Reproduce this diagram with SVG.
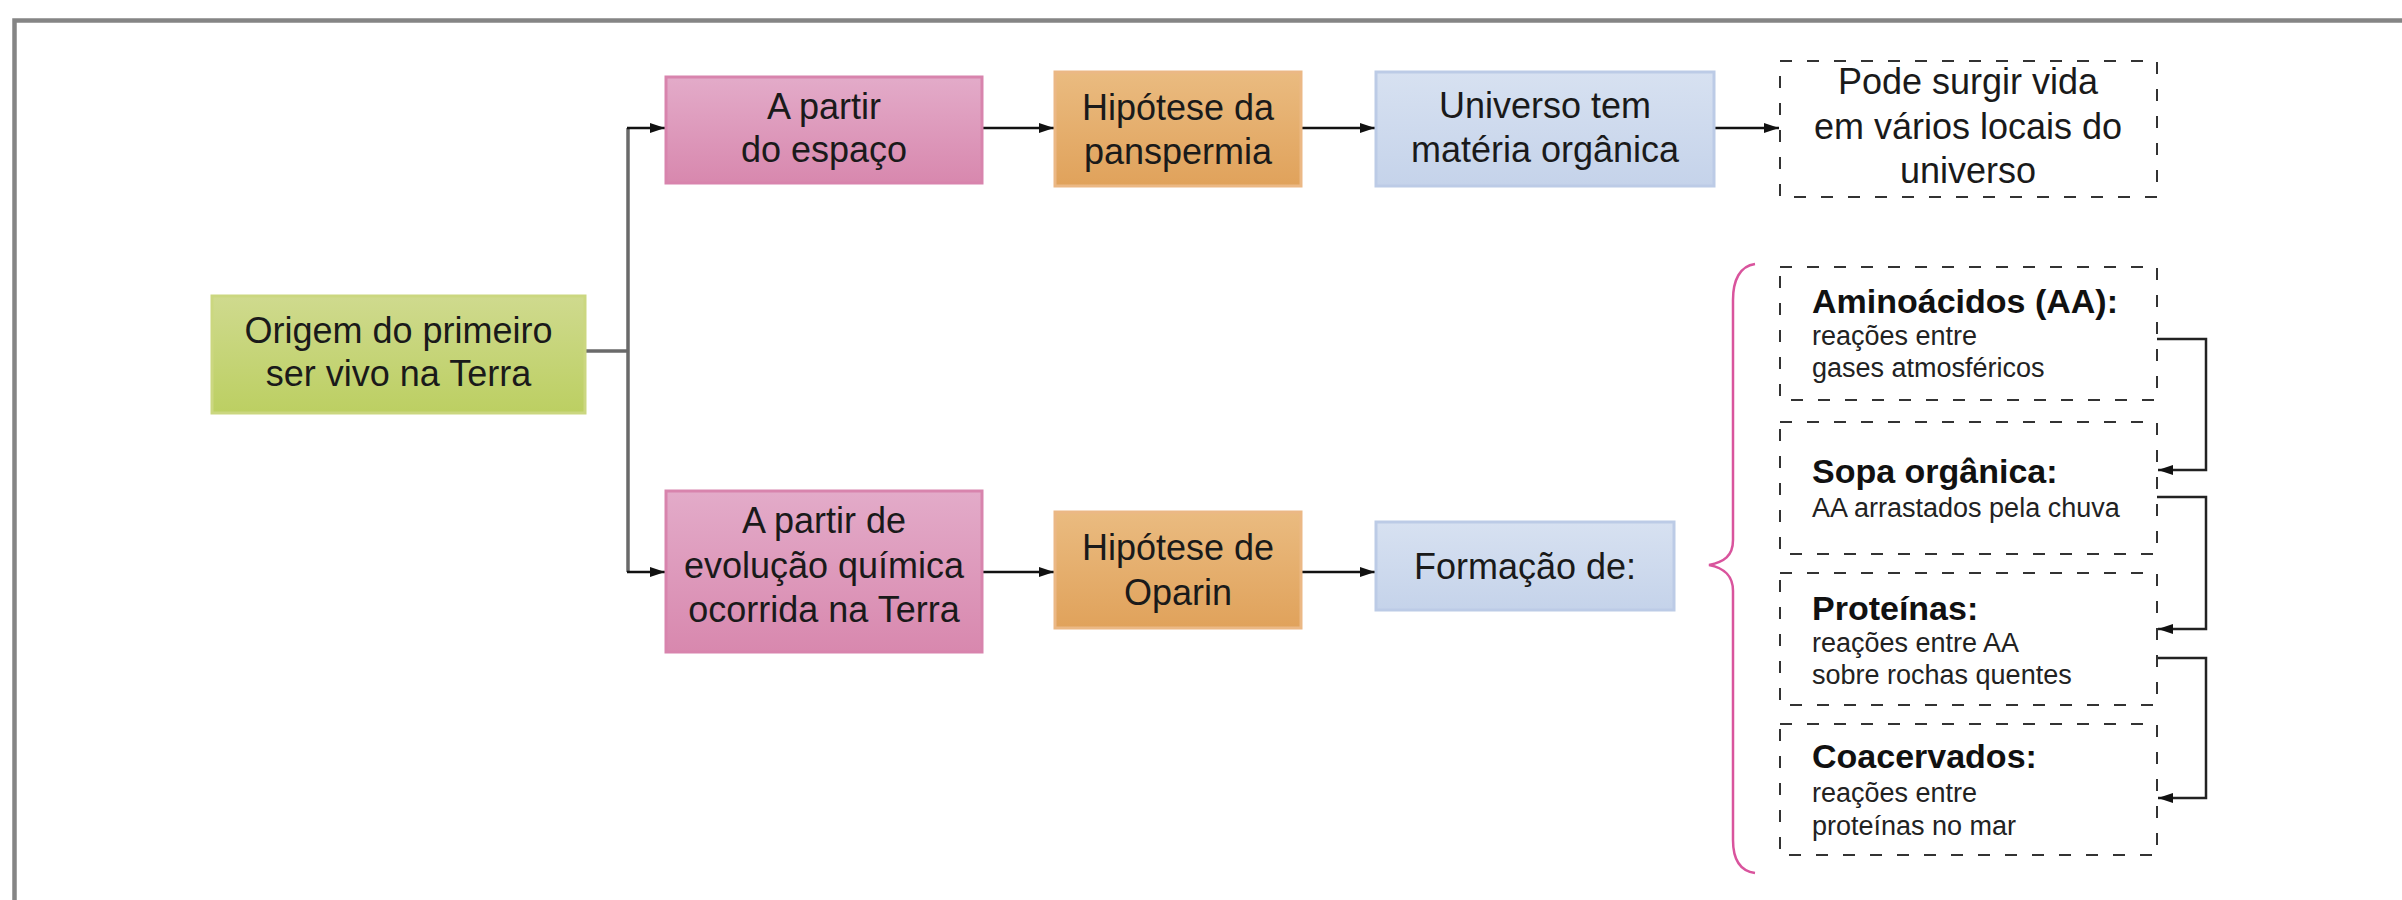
<svg xmlns="http://www.w3.org/2000/svg" width="2402" height="900" viewBox="0 0 2402 900">
<defs>
<linearGradient id="gGreen" x1="0" y1="0" x2="0" y2="1"><stop offset="0" stop-color="#cfda8e"/><stop offset="1" stop-color="#bccf62"/></linearGradient>
<linearGradient id="gPink" x1="0" y1="0" x2="0" y2="1"><stop offset="0" stop-color="#e3abc9"/><stop offset="1" stop-color="#d888ae"/></linearGradient>
<linearGradient id="gOrange" x1="0" y1="0" x2="0" y2="1"><stop offset="0" stop-color="#eabb80"/><stop offset="1" stop-color="#e0a25b"/></linearGradient>
<linearGradient id="gBlue" x1="0" y1="0" x2="0" y2="1"><stop offset="0" stop-color="#d7e1f1"/><stop offset="1" stop-color="#c5d3ea"/></linearGradient>
<marker id="arr" markerUnits="userSpaceOnUse" markerWidth="16" markerHeight="12" refX="15" refY="6" orient="auto">
<path d="M0,1 L15,6 L0,11 z" fill="#111"/>
</marker>
</defs>
<style>
.t{font-family:"Liberation Sans",Arial,sans-serif;font-size:36px;fill:#1a1a1a;text-anchor:middle}
.b{font-family:"Liberation Sans",Arial,sans-serif;font-size:34px;font-weight:bold;fill:#111}
.s{font-family:"Liberation Sans",Arial,sans-serif;font-size:27px;fill:#222}
.dash{fill:#fff;stroke:#333;stroke-width:2;stroke-dasharray:12 15}
.arrow{fill:none;stroke:#111;stroke-width:2.5;marker-end:url(#arr)}
.elbow{fill:none;stroke:#222;stroke-width:2.5;marker-end:url(#arr)}
.trunk{fill:none;stroke:#6a6a6a;stroke-width:3.5}
</style>
<rect width="2402" height="900" fill="#fff"/>
<g id="frame">
<path d="M14.5,900 V20.5 H2402" fill="none" stroke="#858585" stroke-width="4.5"/>
</g>
<g id="connectors">
<path class="trunk" d="M585,351 H628"/>
<path class="trunk" d="M628,128 V572"/>
<path class="arrow" d="M627,128 H665"/>
<path class="arrow" d="M627,572 H665"/>
<path class="arrow" d="M982,128 H1054"/>
<path class="arrow" d="M1301,128 H1375"/>
<path class="arrow" d="M1714,128 H1779"/>
<path class="arrow" d="M982,572 H1054"/>
<path class="arrow" d="M1301,572 H1375"/>
<path class="elbow" d="M2157,339 H2206 V470 H2158"/>
<path class="elbow" d="M2157,497 H2206 V629 H2158"/>
<path class="elbow" d="M2157,658 H2206 V798 H2158"/>
</g>
<g id="origem">
<rect x="212" y="296" width="373" height="117" fill="url(#gGreen)" stroke="#cbd780" stroke-width="3"/>
<text class="t" x="398.5" y="343">Origem do primeiro</text>
<text class="t" x="398.5" y="386">ser vivo na Terra</text>
</g>
<g id="espaco">
<rect x="666" y="77" width="316" height="106" fill="url(#gPink)" stroke="#d884ad" stroke-width="3"/>
<text class="t" x="824" y="119">A partir</text>
<text class="t" x="824" y="162">do espaço</text>
</g>
<g id="panspermia">
<rect x="1055" y="72" width="246" height="114" fill="url(#gOrange)" stroke="#ebb885" stroke-width="3"/>
<text class="t" x="1178" y="120">Hipótese da</text>
<text class="t" x="1178" y="164">panspermia</text>
</g>
<g id="universo">
<rect x="1376" y="72" width="338" height="114" fill="url(#gBlue)" stroke="#bccbe6" stroke-width="3"/>
<text class="t" x="1545" y="118">Universo tem</text>
<text class="t" x="1545" y="162">matéria orgânica</text>
</g>
<g id="pode">
<rect class="dash" x="1780" y="61" width="377" height="136"/>
<text class="t" x="1968" y="94">Pode surgir vida</text>
<text class="t" x="1968" y="139">em vários locais do</text>
<text class="t" x="1968" y="183">universo</text>
</g>
<g id="evolucao">
<rect x="666" y="491" width="316" height="161" fill="url(#gPink)" stroke="#d884ad" stroke-width="3"/>
<text class="t" x="824" y="533">A partir de</text>
<text class="t" x="824" y="578">evolução química</text>
<text class="t" x="824" y="622">ocorrida na Terra</text>
</g>
<g id="oparin">
<rect x="1055" y="512" width="246" height="116" fill="url(#gOrange)" stroke="#ebb885" stroke-width="3"/>
<text class="t" x="1178" y="560">Hipótese de</text>
<text class="t" x="1178" y="605">Oparin</text>
</g>
<g id="formacao">
<rect x="1376" y="522" width="298" height="88" fill="url(#gBlue)" stroke="#bccbe6" stroke-width="3"/>
<text class="t" x="1525" y="579">Formação de:</text>
</g>
<g id="chave">
<path d="M1755,264 C1740,266 1733,280 1733,300 V540 C1733,556 1724,562 1709,565 C1724,568 1733,575 1733,591 V840 C1733,860 1740,871 1755,873" fill="none" stroke="#d9549d" stroke-width="2.5"/>
</g>
<g id="aminoacidos">
<rect class="dash" x="1780" y="267" width="377" height="133"/>
<text class="b" x="1812" y="313">Aminoácidos (AA):</text>
<text class="s" x="1812" y="345">reações entre</text>
<text class="s" x="1812" y="377">gases atmosféricos</text>
</g>
<g id="sopa">
<rect class="dash" x="1780" y="422" width="377" height="132"/>
<text class="b" x="1812" y="483">Sopa orgânica:</text>
<text class="s" x="1812" y="517">AA arrastados pela chuva</text>
</g>
<g id="proteinas">
<rect class="dash" x="1780" y="573" width="377" height="132"/>
<text class="b" x="1812" y="620">Proteínas:</text>
<text class="s" x="1812" y="652">reações entre AA</text>
<text class="s" x="1812" y="684">sobre rochas quentes</text>
</g>
<g id="coacervados">
<rect class="dash" x="1780" y="724" width="377" height="131"/>
<text class="b" x="1812" y="768">Coacervados:</text>
<text class="s" x="1812" y="802">reações entre</text>
<text class="s" x="1812" y="835">proteínas no mar</text>
</g>
</svg>
